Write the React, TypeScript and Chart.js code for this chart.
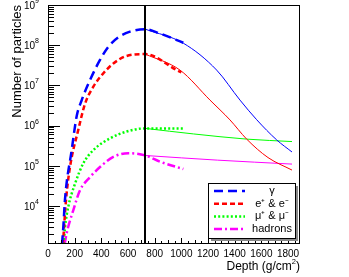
import React, { useEffect, useRef } from "react";
import { Chart, registerables } from "chart.js";

Chart.register(...registerables);

// ---- data ----
const gammaSimDepth = [105, 115, 127, 178, 215, 253, 315, 390, 452, 527, 615, 730, 840, 1015];
const gammaSimValue = [1.12e3, 3.0e3, 1.4e4, 2.5e5, 1.7e6, 4.3e6, 1.35e7, 4.3e7, 9.1e7, 1.57e8, 2.17e8, 2.5e8, 1.95e8, 1.15e8];
const gammaFitDepth = [730, 1015, 1265, 1440, 1565, 1715, 1830];
const gammaFitValue = [2.5e8, 1.12e8, 2.4e7, 4.3e6, 1.4e6, 4.4e5, 2.2e5];

const elecSimDepth = [112, 135, 165, 227, 278, 340, 415, 490, 590, 730, 965, 1000];
const elecSimValue = [1.1e3, 1.4e4, 9.3e4, 7.8e5, 3.5e6, 9.3e6, 2.0e7, 3.5e7, 5.4e7, 6.0e7, 2.4e7, 2.1e7];
const elecFitDepth = [730, 990, 1215, 1365, 1490, 1650, 1830];
const elecFitValue = [6.0e7, 2.4e7, 4.3e6, 1.38e6, 4.6e5, 1.6e5, 7.8e4];

const muonSimDepth = [118, 128, 152, 203, 265, 340, 465, 590, 730, 1015];
const muonSimValue = [1.13e3, 3.0e3, 9.5e3, 3.6e4, 1.15e5, 2.45e5, 4.8e5, 7.1e5, 8.5e5, 8.5e5];
const muonFitDepth = [730, 1090, 1490, 1830];
const muonFitValue = [8.5e5, 6.2e5, 4.6e5, 4.0e5];

const hadrSimDepth = [125, 140, 190, 240, 315, 390, 490, 602, 730, 840, 1015];
const hadrSimValue = [1.13e3, 2.1e3, 7.9e3, 2.45e4, 5.2e4, 9.3e4, 1.66e5, 2.05e5, 1.8e5, 1.26e5, 8.3e4];
const hadrFitDepth = [730, 1270, 1830];
const hadrFitValue = [1.8e5, 1.38e5, 1.1e5];

const legendLabels = ["\u03b3", "e\u207a & e\u207b", "\u03bc\u207a & \u03bc\u207b", "hadrons"];
const xTickValues = [0, 200, 400, 600, 800, 1000, 1200, 1400, 1600, 1800];
const xMinorStep = 50;
const yTickExponents = [4, 5, 6, 7, 8, 9];
const maxDepthLine = 730;

const X_MIN = 0;
const X_MAX = 1890;
const Y_MIN = 1130;
const Y_MAX = 1e9;

const FONT = '"Liberation Sans", Arial, Helvetica, sans-serif';

const pts = (xs: number[], ys: number[]) => xs.map((x, i) => ({ x, y: ys[i] }));

const colors = ["#0000ff", "#ff0000", "#00ff00", "#ff00ff"];
const dashes = [[9, 5], [5, 3], [2, 2.2], [8, 3, 2, 3]];

const overlay = {
  id: "rootOverlay",
  afterDatasetsDraw(chart: any) {
    const ctx = chart.ctx as CanvasRenderingContext2D;
    const xs = chart.scales.x;
    const ys = chart.scales.y;
    const a = chart.chartArea;
    ctx.save();
    // vertical line at shower maximum
    ctx.strokeStyle = "#000";
    ctx.lineWidth = 2;
    const vx = Math.round(xs.getPixelForValue(maxDepthLine));
    ctx.beginPath();
    ctx.moveTo(vx, a.top);
    ctx.lineTo(vx, a.bottom);
    ctx.stroke();

    // frame
    ctx.lineWidth = 1;
    ctx.strokeRect(a.left + 0.5, a.top + 0.5, a.right - a.left - 1, a.bottom - a.top - 1);

    // x ticks
    ctx.beginPath();
    for (let v = 0; v <= X_MAX; v += xMinorStep) {
      const px = Math.round(xs.getPixelForValue(v)) + 0.5;
      const len = v % 200 === 0 ? 6 : v % 100 === 0 ? 4 : 3;
      ctx.moveTo(px, a.bottom);
      ctx.lineTo(px, a.bottom - len);
    }
    // y ticks
    for (let e = 3; e <= 9; e++) {
      for (let k = 1; k <= 9; k++) {
        const v = k * Math.pow(10, e);
        if (v < Y_MIN || v > Y_MAX) continue;
        const py = Math.round(ys.getPixelForValue(v)) + 0.5;
        const len = k === 1 ? 12 : 6;
        ctx.moveTo(a.left, py);
        ctx.lineTo(a.left + len, py);
      }
    }
    ctx.stroke();

    // x tick labels
    ctx.fillStyle = "#000";
    ctx.font = `10px ${FONT}`;
    ctx.textAlign = "center";
    ctx.textBaseline = "middle";
    for (const v of xTickValues) {
      ctx.fillText(String(v), xs.getPixelForValue(v), a.bottom + 10);
    }
    // y tick labels (10^n)
    for (const e of yTickExponents) {
      const py = ys.getPixelForValue(Math.pow(10, e));
      ctx.font = `10px ${FONT}`;
      ctx.textAlign = "left";
      ctx.textBaseline = "middle";
      const baseW = ctx.measureText("10").width;
      ctx.font = `7px ${FONT}`;
      const expW = ctx.measureText(String(e)).width;
      const right = a.left - 9;
      const x0 = right - baseW - expW;
      ctx.font = `10px ${FONT}`;
      ctx.fillText("10", x0, py + 1);
      ctx.font = `7px ${FONT}`;
      ctx.fillText(String(e), x0 + baseW, py - 4);
    }

    // axis titles
    ctx.font = `12px ${FONT}`;
    ctx.textAlign = "right";
    ctx.textBaseline = "middle";
    const t1 = "Depth (g/cm";
    ctx.font = `7.5px ${FONT}`;
    const supW = ctx.measureText("2").width;
    ctx.font = `12px ${FONT}`;
    const closeW = ctx.measureText(")").width;
    const titleRight = a.right;
    const ty = a.bottom + 23;
    ctx.fillText(")", titleRight, ty);
    ctx.font = `7.5px ${FONT}`;
    ctx.fillText("2", titleRight - closeW, ty - 5);
    ctx.font = `12px ${FONT}`;
    ctx.fillText(t1, titleRight - closeW - supW, ty);

    ctx.save();
    ctx.translate(17, a.top);
    ctx.rotate(-Math.PI / 2);
    ctx.font = `13px ${FONT}`;
    ctx.textAlign = "right";
    ctx.textBaseline = "middle";
    ctx.fillText("Number of particles", 0, 0);
    ctx.restore();

    // legend
    const lx = 208, ly = 183, lw = 87, lh = 55;
    ctx.fillStyle = "#888";
    ctx.fillRect(lx + 3, ly + 3, lw, lh);
    ctx.fillStyle = "#fff";
    ctx.fillRect(lx, ly, lw, lh);
    ctx.strokeStyle = "#000";
    ctx.lineWidth = 1;
    ctx.strokeRect(lx + 0.5, ly + 0.5, lw, lh);
    ctx.font = `11px ${FONT}`;
    ctx.textAlign = "center";
    ctx.textBaseline = "middle";
    legendLabels.forEach((lab, i) => {
      const ry = ly + 8 + i * 12.7;
      ctx.strokeStyle = colors[i];
      ctx.lineWidth = 2.5;
      ctx.setLineDash(dashes[i]);
      ctx.beginPath();
      ctx.moveTo(lx + 6, ry);
      ctx.lineTo(lx + 37, ry);
      ctx.stroke();
      ctx.setLineDash([]);
      ctx.fillStyle = "#000";
      ctx.fillText(lab, lx + 64, ry);
    });
    ctx.restore();
  },
};

export default function App() {
  const ref = useRef<HTMLCanvasElement | null>(null);
  useEffect(() => {
    document.body.style.margin = "0";
    const canvas = ref.current!;
    const sim = [
      pts(gammaSimDepth, gammaSimValue),
      pts(elecSimDepth, elecSimValue),
      pts(muonSimDepth, muonSimValue),
      pts(hadrSimDepth, hadrSimValue),
    ];
    const fit = [
      pts(gammaFitDepth, gammaFitValue),
      pts(elecFitDepth, elecFitValue),
      pts(muonFitDepth, muonFitValue),
      pts(hadrFitDepth, hadrFitValue),
    ];
    const datasets: any[] = [];
    fit.forEach((d, i) =>
      datasets.push({
        data: d,
        borderColor: colors[i],
        borderWidth: 1,
        pointRadius: 0,
        tension: 0.4,
        cubicInterpolationMode: "monotone",
        fill: false,
      })
    );
    sim.forEach((d, i) =>
      datasets.push({
        data: d,
        borderColor: colors[i],
        borderWidth: 2.5,
        borderDash: dashes[i],
        pointRadius: 0,
        cubicInterpolationMode: "monotone",
        fill: false,
      })
    );
    const chart = new Chart(canvas, {
      type: "line",
      data: { datasets },
      options: {
        animation: false,
        responsive: false,
        maintainAspectRatio: false,
        layout: { padding: { left: 48, right: 49, top: 5, bottom: 33 } },
        plugins: { legend: { display: false }, tooltip: { enabled: false } },
        scales: {
          x: { type: "linear", min: X_MIN, max: X_MAX, display: false },
          y: { type: "logarithmic", min: Y_MIN, max: Y_MAX, display: false },
        },
      },
      plugins: [overlay],
    });
    return () => chart.destroy();
  }, []);
  return <canvas ref={ref} width={349} height={277} style={{ display: "block" }} />;
}
